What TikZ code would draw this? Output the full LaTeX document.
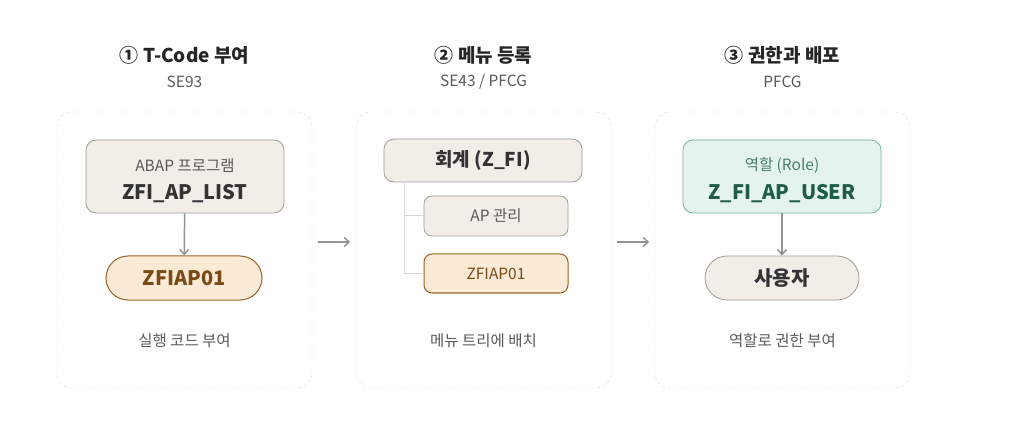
\documentclass[tikz,border=0pt]{standalone}
\usepackage{fontspec}
\setmainfont{Noto Sans CJK KR}
\usetikzlibrary{arrows.meta}
\definecolor{boxgray}{HTML}{F1EEE8}
\definecolor{linegray}{HTML}{A09C94}
\definecolor{txtgray}{HTML}{5A5A5A}
\definecolor{boxorange}{HTML}{FBEBD6}
\definecolor{lineorange}{HTML}{9A6226}
\definecolor{txtorange}{HTML}{7A4A15}
\definecolor{boxgreen}{HTML}{E4F4EC}
\definecolor{linegreen}{HTML}{6DB792}
\definecolor{txtgreen}{HTML}{1F5E45}
\definecolor{dashgray}{HTML}{D8D8D8}
\tikzset{
  panel/.style={draw=dashgray, dashed, rounded corners=15pt, minimum width=255pt, minimum height=276pt},
  gbox/.style={draw=linegray, fill=boxgray, rounded corners=10pt, line width=0.8pt},
  obox/.style={draw=lineorange, fill=boxorange, rounded corners=8pt, line width=1pt, text=txtorange},
  title/.style={font=\bfseries\fontsize{19}{21}\selectfont, text=black!85},
  sub/.style={font=\fontsize{15.5}{17}\selectfont, text=txtgray},
  big/.style={font=\bfseries\fontsize{20}{22}\selectfont},
  flow/.style={-{Straight Barb[length=5pt, width=9pt]}, draw=gray!85, line width=1.5pt}
}
\begin{document}
\begin{tikzpicture}[x=1pt,y=-1pt]
  \useasboundingbox (0,0) rectangle (1024,427);

  % panels
  \node[panel] (p1) at (184.5,250) {};
  \node[panel] (p2) at (483.5,250) {};
  \node[panel] (p3) at (782.5,250) {};

  % titles
  \node[title] (t1) at (184.5,55) {① T-Code 부여};
  \node[sub] (s1) at (184.5,82) {SE93};
  \node[title] (t2) at (483.5,55) {② 메뉴 등록};
  \node[sub] (s2) at (483.5,82) {SE43 / PFCG};
  \node[title] (t3) at (782.5,55) {③ 권한과 배포};
  \node[sub] (s3) at (782.5,82) {PFCG};

  % step 1
  \node[gbox, minimum width=198pt, minimum height=73pt] (prog) at (185,176.5) {};
  \node[sub] (progname) at (185,166) {ABAP 프로그램};
  \node[big, text=black!80] (progid) at (185,194) {ZFI\_AP\_LIST};
  \node[obox, rounded corners=22pt, minimum width=156pt, minimum height=44pt, big] (tc1) at (184,278) {ZFIAP01};
  \draw[flow] (prog) -- (tc1);
  \node[sub] (c1) at (184.5,341) {실행 코드 부여};

  % step 2
  \node[gbox, minimum width=198pt, minimum height=43pt, font=\bfseries\fontsize{19}{21}\selectfont, text=black!80] (fi) at (483,160.5) {회계 (Z\_FI)};
  \node[gbox, rounded corners=8pt, minimum width=144pt, minimum height=40pt, font=\fontsize{15.5}{17}\selectfont, text=txtgray] (ap) at (496,216) {AP 관리};
  \node[obox, minimum width=144pt, minimum height=39pt, font=\fontsize{15.5}{17}\selectfont] (tc2) at (496,273.5) {ZFIAP01};
  \coordinate (root) at (404,182);
  \draw[dashgray, line width=1pt] (root) |- (ap.west);
  \draw[dashgray, line width=1pt] (root) |- (tc2.west);
  \node[sub] (c2) at (483.5,341) {메뉴 트리에 배치};

  % step 3
  \node[draw=linegreen, fill=boxgreen, rounded corners=10pt, line width=0.8pt, minimum width=198pt, minimum height=73pt] (role) at (782,176.5) {};
  \node[sub, text=txtgreen!80!white] (rolename) at (782,166) {역할 (Role)};
  \node[big, text=txtgreen] (roleid) at (782,194) {Z\_FI\_AP\_USER};
  \node[gbox, rounded corners=22pt, minimum width=154pt, minimum height=44pt, big, text=black!80] (user) at (782,278) {사용자};
  \draw[flow] (role) -- (user);
  \node[sub] (c3) at (782.5,341) {역할로 권한 부여};

  % between panels
  \draw[flow] (p1.east |- 0,242) ++(6,0) coordinate (a1) -- ++(32,0) coordinate (b1);
  \draw[flow] (p2.east |- 0,242) ++(6,0) coordinate (a2) -- ++(32,0) coordinate (b2);
\end{tikzpicture}
\end{document}
